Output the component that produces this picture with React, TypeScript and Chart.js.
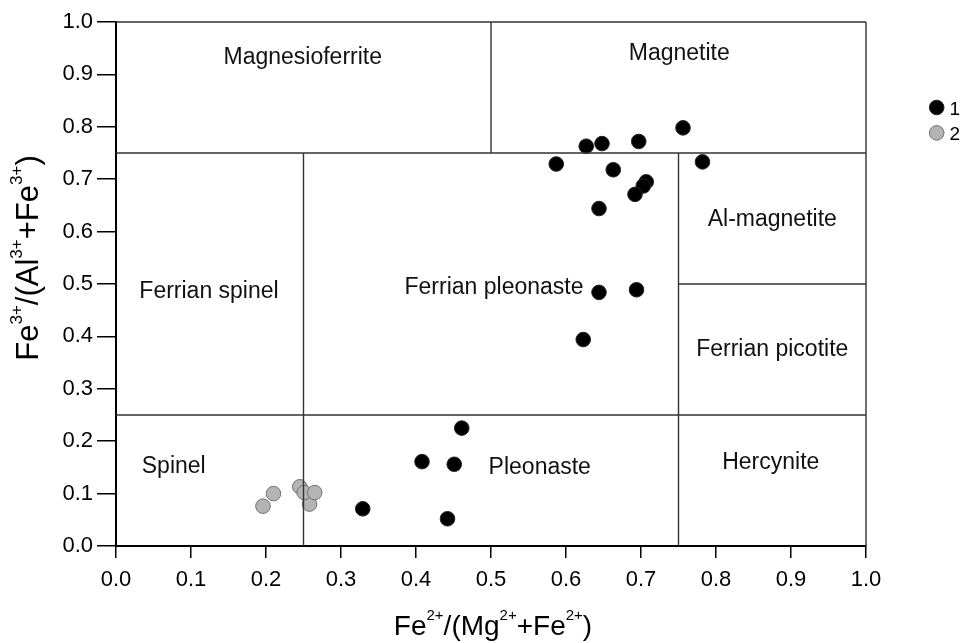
import React, { useEffect, useRef } from "react";
import { Chart, registerables } from "chart.js";

Chart.register(...registerables);

// ---- Data ----
const seriesLabels = ["1", "2"];

const series1X = [0.756, 0.627, 0.648, 0.697, 0.782, 0.587, 0.663, 0.707, 0.703, 0.692, 0.644, 0.644, 0.694, 0.623, 0.461, 0.408, 0.451, 0.329, 0.442];
const series1Y = [0.798, 0.763, 0.768, 0.772, 0.733, 0.729, 0.718, 0.695, 0.687, 0.671, 0.644, 0.484, 0.489, 0.394, 0.225, 0.161, 0.156, 0.071, 0.052];

const series2X = [0.196, 0.210, 0.245, 0.258, 0.251, 0.265];
const series2Y = [0.076, 0.100, 0.113, 0.080, 0.102, 0.102];

// Field boundaries (segments in data space)
const boundX1 = [0, 1, 0, 0, 0.5, 0.25, 0.75, 0.75];
const boundY1 = [1, 0, 0.75, 0.25, 0.75, 0, 0, 0.5];
const boundX2 = [1, 1, 1, 1, 0.5, 0.25, 0.75, 1];
const boundY2 = [1, 1, 0.75, 0.25, 1, 0.75, 0.75, 0.5];

// Field names (anchor = text centre / baseline in data space)
const regionNames = ["Magnesioferrite", "Magnetite", "Ferrian spinel", "Ferrian pleonaste", "Al-magnetite", "Ferrian picotite", "Spinel", "Pleonaste", "Hercynite"];
const regionX = [0.249, 0.751, 0.124, 0.504, 0.875, 0.875, 0.077, 0.565, 0.873];
const regionY = [0.92, 0.927, 0.473, 0.48, 0.611, 0.363, 0.139, 0.137, 0.147];

const xTitleParts: [string, boolean][] = [["Fe", false], ["2+", true], ["/(Mg", false], ["2+", true], ["+Fe", false], ["2+", true], [")", false]];
const yTitleParts: [string, boolean][] = [["Fe", false], ["3+", true], ["/(Al", false], ["3+", true], ["+Fe", false], ["3+", true], [")", false]];

const FONT = '"Liberation Sans", Arial, Helvetica, sans-serif';

function drawRich(ctx: CanvasRenderingContext2D, parts: [string, boolean][], cx: number, baseY: number, mainSize: number, supSize: number, raise: number) {
  const widths: number[] = [];
  let total = 0;
  for (const [t, sup] of parts) {
    ctx.font = `${sup ? supSize : mainSize}px ${FONT}`;
    const w = ctx.measureText(t).width;
    widths.push(w);
    total += w;
  }
  let xp = cx - total / 2;
  ctx.textAlign = "left";
  ctx.textBaseline = "alphabetic";
  parts.forEach(([t, sup], i) => {
    ctx.font = `${sup ? supSize : mainSize}px ${FONT}`;
    ctx.fillText(t, xp, sup ? baseY - raise : baseY);
    xp += widths[i];
  });
}

const overlayPlugin = {
  id: "overlay",
  afterDatasetsDraw(chart: any) {
    const { ctx, scales } = chart;
    const xs = scales.x;
    const ys = scales.y;
    ctx.save();
    // field boundaries
    ctx.strokeStyle = "#333";
    ctx.lineWidth = 1.4;
    ctx.beginPath();
    for (let i = 0; i < boundX1.length; i++) {
      ctx.moveTo(xs.getPixelForValue(boundX1[i]), ys.getPixelForValue(boundY1[i]));
      ctx.lineTo(xs.getPixelForValue(boundX2[i]), ys.getPixelForValue(boundY2[i]));
    }
    ctx.stroke();

    // field names
    ctx.fillStyle = "#111";
    ctx.font = `23px ${FONT}`;
    ctx.textAlign = "center";
    ctx.textBaseline = "alphabetic";
    regionNames.forEach((n, i) => {
      ctx.fillText(n, xs.getPixelForValue(regionX[i]), ys.getPixelForValue(regionY[i]));
    });

    // legend
    const ds = chart.data.datasets;
    ds.forEach((d: any, i: number) => {
      const cy = 107.5 + i * 25.4;
      ctx.beginPath();
      ctx.arc(936.7, cy, 7.3, 0, Math.PI * 2);
      ctx.fillStyle = d.backgroundColor;
      ctx.fill();
      ctx.lineWidth = 1;
      ctx.strokeStyle = d.borderColor;
      ctx.stroke();
      ctx.fillStyle = "#000";
      ctx.font = `19px ${FONT}`;
      ctx.textAlign = "left";
      ctx.textBaseline = "alphabetic";
      ctx.fillText(d.label, 949.5, cy + 7.5);
    });

    // axis titles
    ctx.fillStyle = "#000";
    drawRich(ctx, xTitleParts, 493, 635, 28, 15, 15);
    ctx.translate(38.3, 258);
    ctx.rotate(-Math.PI / 2);
    drawRich(ctx, yTitleParts, 0, 0, 31, 17, 16.5);
    ctx.restore();
  },
};

export default function App() {
  const ref = useRef<HTMLCanvasElement>(null);
  useEffect(() => {
    if (!ref.current) return;
    Chart.defaults.font.family = FONT;
    const chart = new Chart(ref.current, {
      type: "scatter",
      data: {
        datasets: [
          {
            label: seriesLabels[0],
            data: series1X.map((x, i) => ({ x, y: series1Y[i] })),
            backgroundColor: "#000",
            borderColor: "#222",
            borderWidth: 1,
            pointRadius: 7.3,
            pointHoverRadius: 7.3,
          },
          {
            label: seriesLabels[1],
            data: series2X.map((x, i) => ({ x, y: series2Y[i] })),
            backgroundColor: "#b4b4b4",
            borderColor: "#707070",
            borderWidth: 1,
            pointRadius: 7.3,
            pointHoverRadius: 7.3,
          },
        ],
      },
      options: {
        animation: false,
        responsive: false,
        devicePixelRatio: 1,
        layout: { padding: { top: 22, right: 102, bottom: 0, left: 0 } },
        plugins: { legend: { display: false }, tooltip: { enabled: false } },
        scales: {
          x: {
            type: "linear",
            position: "bottom",
            min: 0,
            max: 1,
            ticks: {
              stepSize: 0.1,
              callback: (v: any) => Number(v).toFixed(1),
              font: { size: 22, family: FONT },
              color: "#000",
              padding: 9,
              maxRotation: 0,
              autoSkip: false,
            },
            grid: { display: true, drawOnChartArea: false, drawTicks: true, tickLength: 12, color: "#000", lineWidth: 1.5 },
            border: { display: true, color: "#000", width: 2 },
            afterFit: (s: any) => { s.height = 97; },
          },
          y: {
            type: "linear",
            min: 0,
            max: 1,
            ticks: {
              stepSize: 0.1,
              callback: (v: any) => Number(v).toFixed(1),
              font: { size: 22, family: FONT },
              color: "#000",
              padding: 4,
              autoSkip: false,
            },
            grid: { display: true, drawOnChartArea: false, drawTicks: true, tickLength: 19, color: "#000", lineWidth: 1.5 },
            border: { display: true, color: "#000", width: 2 },
            afterFit: (s: any) => { s.width = 116; },
          },
        },
      },
      plugins: [overlayPlugin],
    } as any);
    return () => chart.destroy();
  }, []);
  return (
    <div style={{ position: "fixed", left: 0, top: 0, width: 968, height: 643, background: "#fff" }}>
      <canvas ref={ref} width={968} height={643} style={{ display: "block", width: 968, height: 643 }} />
    </div>
  );
}
